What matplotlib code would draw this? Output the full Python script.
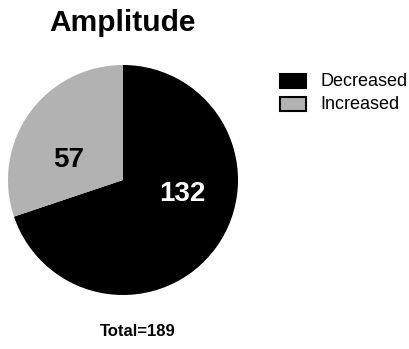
import matplotlib
matplotlib.use("Agg")
import matplotlib.pyplot as plt
from matplotlib.patches import Rectangle

plt.rcParams['font.family'] = ['Liberation Sans', 'DejaVu Sans']

categories = ["Decreased", "Increased"]
counts = [132, 57]
colors = ["#000000", "#b2b2b2"]
title = "Amplitude"

W, H = 409, 349
fig = plt.figure(figsize=(W / 100, H / 100), dpi=100)

# pie axes: centre (123,180) px, radius 115 px
cx, cy, r = 123, 180, 115
ax = fig.add_axes([(cx - r) / W, 1 - (cy + r) / H, 2 * r / W, 2 * r / H])
ax.pie(counts, colors=colors, startangle=90, counterclock=False,
       radius=1.0, wedgeprops=dict(linewidth=0))
ax.set_xlim(-1, 1)
ax.set_ylim(-1, 1)
ax.set_aspect('equal')
ax.axis('off')

# value labels inside the slices
label_pos = [(0.52, -0.12), (-0.47, 0.17)]
label_col = ["white", "black"]
for v, (lx, ly), c in zip(counts, label_pos, label_col):
    ax.text(lx, ly, str(v), ha='center', va='center', fontsize=20,
            fontweight='bold', color=c)

fig.text(122 / W, 1 - 23 / H, title, ha='center', va='center',
         fontsize=21.5, fontweight='bold')
fig.text(138 / W, 1 - 332 / H, f"Total={sum(counts)}", ha='center',
         va='center', fontsize=12, fontweight='bold')

# legend drawn by hand
ys = [81, 104]
for cat, col, y in zip(categories, colors, ys):
    fig.patches.append(Rectangle((280 / W, 1 - (y + 7) / H), 26 / W, 14 / H,
                                 transform=fig.transFigure, facecolor=col,
                                 edgecolor='black', linewidth=1.5))
    fig.text(320 / W, 1 - y / H, cat, ha='left', va='center', fontsize=13)

fig.savefig("out.png", dpi=100)
